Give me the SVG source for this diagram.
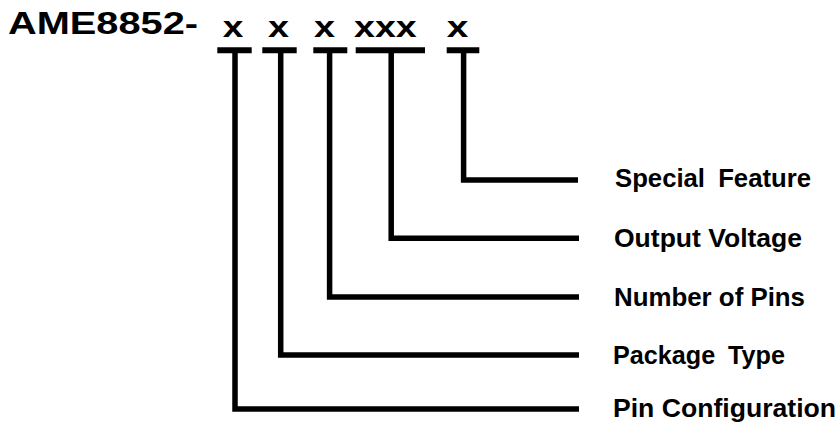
<svg xmlns="http://www.w3.org/2000/svg" width="838" height="426" viewBox="0 0 838 426">
<style>
.t{font-family:"Liberation Sans",Arial,Helvetica,sans-serif;font-weight:bold;fill:#000}
.title{font-size:31.5px}
.seg{font-size:30px}
.lbl{font-size:25.5px}
.bar{stroke:#000;stroke-width:6;fill:none}
.conn{stroke:#000;stroke-width:5.5;fill:none;stroke-linejoin:miter;stroke-linecap:butt}
</style>
<rect width="838" height="426" fill="#fff"/>
<g id="title">
<text class="t title" x="8" y="33.5" textLength="190" lengthAdjust="spacingAndGlyphs">AME8852-</text>
</g>
<g id="seg-pin-config">
<text class="t seg" x="222.7" y="37" textLength="20.6" lengthAdjust="spacingAndGlyphs">x</text>
<line class="bar" x1="217.3" y1="50.3" x2="251.7" y2="50.3"/>
</g>
<g id="seg-package">
<text class="t seg" x="268" y="37" textLength="21" lengthAdjust="spacingAndGlyphs">x</text>
<line class="bar" x1="262.3" y1="50.3" x2="296.7" y2="50.3"/>
</g>
<g id="seg-pins">
<text class="t seg" x="314" y="37" textLength="21" lengthAdjust="spacingAndGlyphs">x</text>
<line class="bar" x1="313.3" y1="50.3" x2="347.3" y2="50.3"/>
</g>
<g id="seg-voltage">
<text class="t seg" x="354" y="37" textLength="62.7" lengthAdjust="spacingAndGlyphs">xxx</text>
<line class="bar" x1="355.7" y1="50.3" x2="425" y2="50.3"/>
</g>
<g id="seg-feature">
<text class="t seg" x="446.7" y="37" textLength="21.6" lengthAdjust="spacingAndGlyphs">x</text>
<line class="bar" x1="446.7" y1="50.3" x2="479.3" y2="50.3"/>
</g>
<g id="connectors">
<path class="conn" d="M235 50 V409 H579"/>
<path class="conn" d="M280.7 50 V355 H579"/>
<path class="conn" d="M329.6 50 V297 H579"/>
<path class="conn" d="M391.2 50 V238.3 H579"/>
<path class="conn" d="M463.6 50 V180 H578"/>
</g>
<g id="label-special-feature">
<text class="t lbl" x="615" y="187" textLength="196" lengthAdjust="spacingAndGlyphs" word-spacing="6">Special Feature</text>
</g>
<g id="label-output-voltage">
<text class="t lbl" x="614" y="247" textLength="188" lengthAdjust="spacingAndGlyphs">Output Voltage</text>
</g>
<g id="label-number-of-pins">
<text class="t lbl" x="614" y="305.5" textLength="191" lengthAdjust="spacingAndGlyphs">Number of Pins</text>
</g>
<g id="label-package-type">
<text class="t lbl" x="613" y="363.5" textLength="172" lengthAdjust="spacingAndGlyphs" word-spacing="6">Package Type</text>
</g>
<g id="label-pin-configuration">
<text class="t lbl" x="613" y="417" textLength="223" lengthAdjust="spacingAndGlyphs">Pin Configuration</text>
</g>
</svg>
